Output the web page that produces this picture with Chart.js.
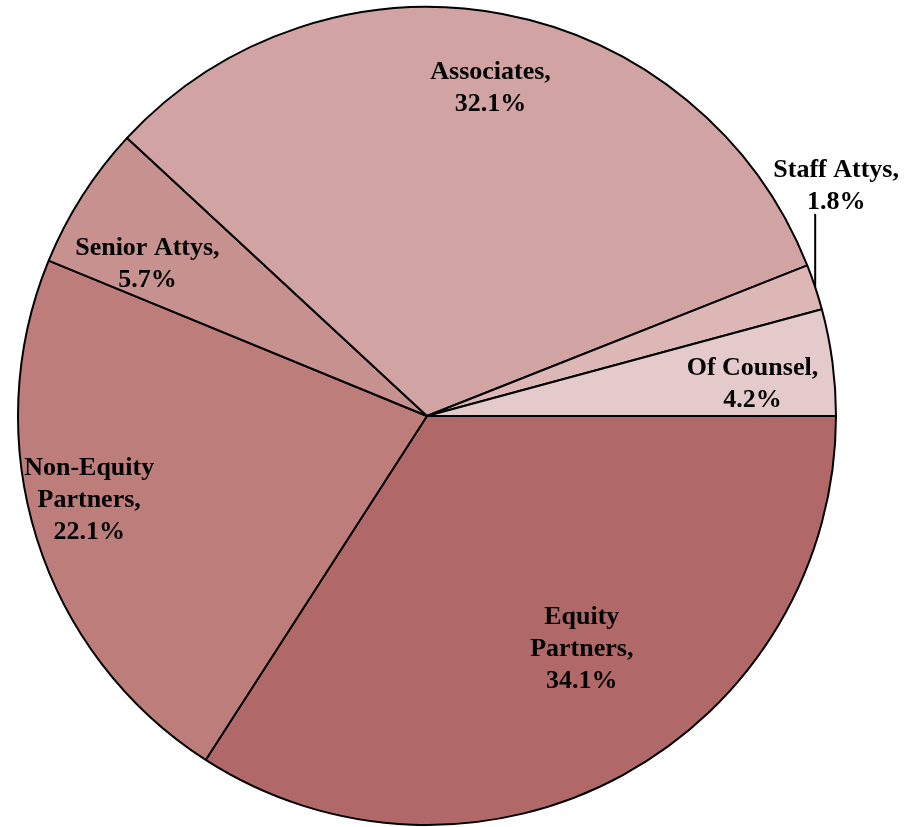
<html>
<head>
<script src="https://cdn.jsdelivr.net/npm/chart.js@4/dist/chart.umd.min.js"></script>
<style>
  body { margin: 0; background: #fff; }
  #container { width: 922px; height: 827px; }
</style>
</head>
<body>
<div id="container"><canvas id="myChart"></canvas></div>
<script>
var categories = ["Equity Partners", "Non-Equity Partners", "Senior Attys", "Associates", "Staff Attys", "Of Counsel"];
var shares = [34.1, 22.1, 5.7, 32.1, 1.8, 4.2];
var labelLines = [
  ["Equity", "Partners,", "34.1%"],
  ["Non-Equity", "Partners,", "22.1%"],
  ["Senior Attys,", "5.7%"],
  ["Associates,", "32.1%"],
  ["Staff Attys,", "1.8%"],
  ["Of Counsel,", "4.2%"]
];
var colors = ["#B06968", "#BC7D7B", "#C6918F", "#D1A3A3", "#DCB7B6", "#E4CACB"];

// label placement: distance as fraction of radius, angle shift in degrees
var labelDist = [0.68, 0.85, 0.78, 0.82, 1.15, 0.80];
var labelShift = [-5.2, 3.8, -3.8, 0.3, -11.2, 1.6];

var pieLabels = {
  id: 'pieLabels',
  afterDatasetsDraw: function(chart) {
    var ctx = chart.ctx;
    var arcs = chart.getDatasetMeta(0).data;
    ctx.save();
    ctx.font = 'bold 26px "Liberation Serif", "Times New Roman", serif';
    ctx.fillStyle = '#000';
    ctx.textAlign = 'center';
    ctx.textBaseline = 'middle';
    var lh = 32;
    arcs.forEach(function(arc, i) {
      var p = arc.getProps(['x', 'y', 'startAngle', 'endAngle', 'outerRadius'], true);
      var mid = (p.startAngle + p.endAngle) / 2;
      var a = mid + labelShift[i] * Math.PI / 180;
      var d = p.outerRadius * labelDist[i];
      var cx = p.x + Math.cos(a) * d;
      var cy = p.y + Math.sin(a) * d + 2;
      var lines = labelLines[i];
      if (labelDist[i] > 1) {
        // leader line from the slice edge straight up to the label
        var ex = p.x + Math.cos(mid) * p.outerRadius;
        var ey = p.y + Math.sin(mid) * p.outerRadius;
        ctx.beginPath();
        ctx.strokeStyle = '#000';
        ctx.lineWidth = 2;
        ctx.moveTo(ex, ey);
        ctx.lineTo(ex, cy + lines.length * lh / 2 - 4);
        ctx.stroke();
      }
      var y0 = cy - (lines.length - 1) * lh / 2;
      lines.forEach(function(t, k) {
        ctx.fillText(t, cx, y0 + k * lh);
      });
    });
    ctx.restore();
  }
};

var ctx = document.getElementById('myChart').getContext('2d');
var myChart = new Chart(ctx, {
  type: 'pie',
  data: {
    labels: categories,
    datasets: [{
      data: shares,
      backgroundColor: colors,
      borderColor: '#000',
      borderWidth: 2
    }]
  },
  options: {
    responsive: true,
    maintainAspectRatio: false,
    animation: false,
    rotation: 90,
    layout: { padding: { left: 17, right: 85, top: 6, bottom: 1 } },
    plugins: {
      legend: { display: false },
      tooltip: { enabled: false }
    }
  },
  plugins: [pieLabels]
});
</script>
</body>
</html>
